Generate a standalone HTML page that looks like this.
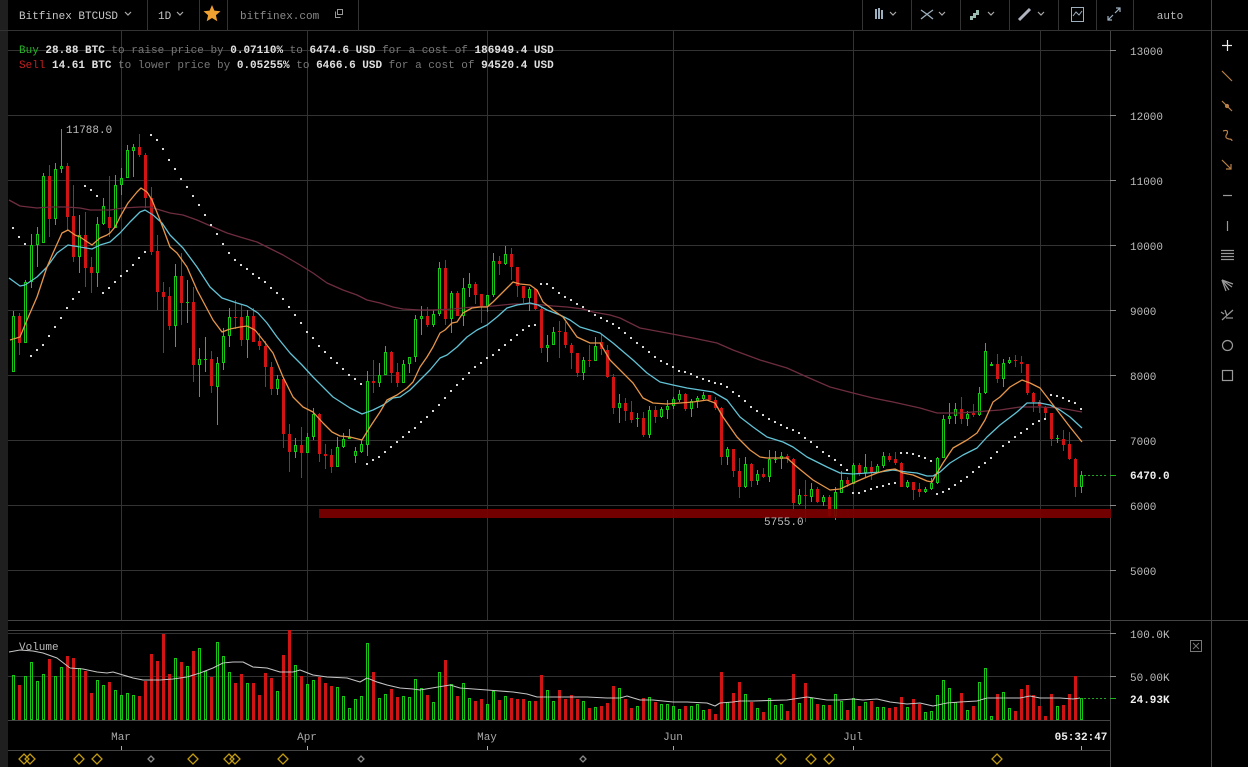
<!DOCTYPE html>
<html><head><meta charset="utf-8">
<style>
html,body{margin:0;padding:0;background:#000;width:1248px;height:767px;overflow:hidden}
svg{display:block}
text{font-family:"Liberation Mono","DejaVu Sans Mono",monospace;font-size:11px}
</style></head>
<body>
<svg id="s" width="1248" height="767" xmlns="http://www.w3.org/2000/svg">
<rect width="1248" height="767" fill="#000"/>
<rect x="0" y="0" width="8" height="767" fill="#1f1f1f"/>

<!-- header -->
<line x1="0" y1="30.5" x2="1248" y2="30.5" stroke="#333"/>
<g stroke="#333">
<line x1="147.5" y1="0" x2="147.5" y2="30"/><line x1="199.5" y1="0" x2="199.5" y2="30"/>
<line x1="227.5" y1="0" x2="227.5" y2="30"/><line x1="358.5" y1="0" x2="358.5" y2="30"/>
<line x1="862.5" y1="0" x2="862.5" y2="30"/><line x1="911.5" y1="0" x2="911.5" y2="30"/>
<line x1="960.5" y1="0" x2="960.5" y2="30"/><line x1="1009.5" y1="0" x2="1009.5" y2="30"/>
<line x1="1058.5" y1="0" x2="1058.5" y2="30"/><line x1="1096.5" y1="0" x2="1096.5" y2="30"/>
<line x1="1133.5" y1="0" x2="1133.5" y2="30"/>
</g>
<text x="19" y="19" fill="#c8c8c8">Bitfinex BTCUSD</text>
<text x="158" y="19" fill="#c8c8c8">1D</text>
<text x="240" y="19" fill="#8a8a8a">bitfinex.com</text>
<g fill="none" stroke="#aaa" stroke-width="1.2">
<polyline points="125,12 128,15 131,12"/><polyline points="177,12 180,15 183,12"/>
<polyline points="890,12 893,15 896,12"/><polyline points="939,12 942,15 945,12"/>
<polyline points="988,12 991,15 994,12"/><polyline points="1038,12 1041,15 1044,12"/>
</g>
<polygon points="212,5 214.4,10.6 220.5,11.2 215.9,15.2 217.3,21.2 212,18 206.7,21.2 208.1,15.2 203.5,11.2 209.6,10.6" fill="#f0a030"/>
<g fill="none" stroke="#999" stroke-width="1"><rect x="337.5" y="9.5" width="5" height="5"/><polyline points="335.5,11.5 335.5,17.5 340.5,17.5"/></g>
<g fill="#9db0c0"><rect x="875" y="9" width="2" height="10"/><rect x="878" y="8" width="2" height="11"/><rect x="881" y="10" width="2" height="9"/></g>
<g stroke="#9db0c0" stroke-width="1.3" fill="none"><path d="M921,10 Q927,14 933,19"/><path d="M921,19 Q927,14 933,10"/></g>
<path d="M970,20 V16 H973 V13 H976 V10 H979 V15 H976 V18 H973 V20 Z" fill="#9dbcb0"/>
<line x1="1019" y1="20" x2="1030" y2="9" stroke="#b0b4c0" stroke-width="3"/>
<g stroke="#9db0c0" fill="none" stroke-width="1"><rect x="1071.5" y="7.5" width="12" height="14"/><polyline points="1073,16 1076,12 1079,15 1082,11"/></g>
<g stroke="#9db0c0" fill="none" stroke-width="1.2"><line x1="1108" y1="20" x2="1113" y2="15"/><line x1="1115" y1="13" x2="1120" y2="8"/><polyline points="1108,16 1108,20 1112,20"/><polyline points="1116,8 1120,8 1120,12"/></g>
<text x="1170" y="19" fill="#bbb" text-anchor="middle">auto</text>

<!-- grid -->
<g stroke="#333" stroke-width="1">
<line x1="8" y1="50.5" x2="1110" y2="50.5"/><line x1="8" y1="115.5" x2="1110" y2="115.5"/>
<line x1="8" y1="180.5" x2="1110" y2="180.5"/><line x1="8" y1="245.5" x2="1110" y2="245.5"/>
<line x1="8" y1="310.5" x2="1110" y2="310.5"/><line x1="8" y1="375.5" x2="1110" y2="375.5"/>
<line x1="8" y1="440.5" x2="1110" y2="440.5"/><line x1="8" y1="505.5" x2="1110" y2="505.5"/>
<line x1="8" y1="570.5" x2="1110" y2="570.5"/>
<line x1="8" y1="633.5" x2="1110" y2="633.5"/><line x1="8" y1="676.5" x2="1110" y2="676.5"/>
<line x1="121.5" y1="31" x2="121.5" y2="620"/><line x1="307.5" y1="31" x2="307.5" y2="620"/>
<line x1="487.5" y1="31" x2="487.5" y2="620"/><line x1="673.5" y1="31" x2="673.5" y2="620"/>
<line x1="853.5" y1="31" x2="853.5" y2="620"/><line x1="1040.5" y1="31" x2="1040.5" y2="620"/>
<line x1="121.5" y1="630" x2="121.5" y2="720"/><line x1="307.5" y1="630" x2="307.5" y2="720"/>
<line x1="487.5" y1="630" x2="487.5" y2="720"/><line x1="673.5" y1="630" x2="673.5" y2="720"/>
<line x1="853.5" y1="630" x2="853.5" y2="720"/><line x1="1040.5" y1="630" x2="1040.5" y2="720"/>
</g>
<g stroke="#444" stroke-width="1">
<line x1="8" y1="620.5" x2="1248" y2="620.5"/>
<line x1="8" y1="630.5" x2="1110" y2="630.5"/>
<line x1="8" y1="720.5" x2="1110" y2="720.5"/>
<line x1="8" y1="750.5" x2="1110" y2="750.5"/>
<line x1="1110.5" y1="31" x2="1110.5" y2="767"/>
<line x1="1211.5" y1="0" x2="1211.5" y2="767"/>
</g>

<g id="cand"></g>
<g id="vol"></g>

<rect x="319" y="509" width="792" height="9" fill="#7c0000" opacity="0.93"/>

<g fill="none" stroke-width="1.3" stroke-linejoin="round">
<polyline stroke="#6e2d3f" points="9,200 20,206 37,208 50,207 67,207 80,208 90,210 110,210 123,208 140,207 150,207 160,210 170,213 183,215 197,220 213,227 227,233 240,237 257,242 267,247 283,255 300,265 313,273 327,283 343,290 357,295 367,300 380,303 393,307 403,309 420,310 433,310 453,309 473,307 493,306 513,304 533,304 553,306 567,307 583,309 593,312 610,315 620,318 640,328 667,333 693,338 717,343 733,350 760,360 787,368 807,377 830,387 853,393 873,398 893,402 920,408 937,413 960,413 1000,410 1020,407 1040,407 1060,408 1082,412"/>
<polyline stroke="#62c3d6" points="9,278 20,286 25,285 37,277 47,267 57,253 68,245 80,247 92,249 100,245 110,242 120,233 130,222 140,212 145,210 153,215 162,223 170,235 183,248 197,267 210,287 222,298 237,303 247,306 258,313 267,323 277,337 290,353 302,365 313,377 333,397 350,408 362,414 373,410 383,405 393,398 400,397 410,390 420,380 430,370 440,358 447,355 457,347 467,337 477,330 487,325 497,317 507,308 517,305 530,303 538,305 547,310 560,315 570,320 580,327 590,330 600,333 613,343 633,360 647,373 660,382 673,385 687,388 700,390 713,392 727,400 740,417 753,427 767,437 783,442 793,447 807,457 827,467 840,473 853,474 867,473 880,472 893,470 907,472 917,473 927,476 933,476 940,472 950,463 963,455 977,448 987,437 1000,425 1017,412 1027,403 1040,403 1050,405 1060,410 1070,417 1082,428"/>
<polyline stroke="#e6964a" points="10,340 20,337 27,320 37,297 47,267 53,253 62,233 68,230 75,235 80,237 92,245 100,238 107,235 110,233 115,227 120,217 128,203 137,192 141,188 147,192 152,200 160,220 170,247 177,253 187,267 197,290 213,320 222,332 230,329 240,327 247,326 255,330 263,340 273,353 283,377 293,397 303,407 313,412 323,423 332,432 340,436 350,437 362,440 370,427 380,412 387,400 397,395 407,388 413,382 420,367 427,357 433,347 440,333 445,330 452,323 457,322 463,313 472,308 480,307 487,307 493,302 500,295 508,287 513,282 520,284 530,285 537,290 543,302 553,310 563,317 570,327 577,337 590,343 600,343 610,360 633,383 643,398 653,403 667,404 680,403 693,402 707,400 715,403 723,417 737,437 750,450 760,457 767,458 787,458 797,467 813,480 830,490 840,489 853,483 867,477 877,473 887,470 895,469 903,473 913,475 927,481 932,482 937,473 943,463 953,448 967,440 977,433 985,420 993,402 1000,397 1010,387 1022,380 1030,383 1040,388 1047,397 1057,410 1070,427 1082,442"/>
<polyline stroke="#c4c4c4" stroke-width="1.1" points="9,652 20,650 33,651 43,653 57,658 70,668 83,669 97,672 107,673 113,672 123,675 133,678 143,680 160,680 173,679 187,677 200,673 213,668 223,663 233,662 243,662 253,667 267,668 280,672 293,672 300,670 313,675 327,677 347,678 360,682 367,678 377,682 387,685 400,688 413,689 420,690 450,685 460,688 487,690 513,692 527,694 537,697 587,697 607,698 620,698 627,696 640,700 653,700 673,702 687,702 707,703 715,706 720,703 733,702 740,701 753,701 787,700 807,697 827,700 840,700 853,699 863,700 877,699 890,702 907,704 920,703 933,706 947,703 960,702 977,701 987,698 1007,698 1020,698 1030,696 1040,698 1060,698 1073,699 1080,698"/>
</g>
<g id="sar" fill="#d8d8d8"></g>

<!-- current price / volume markers -->
<line x1="1084" y1="475.5" x2="1108" y2="475.5" stroke="#1fa51f" stroke-dasharray="2,2"/>
<line x1="1084" y1="698.5" x2="1108" y2="698.5" stroke="#1fa51f" stroke-dasharray="2,2"/>
<g stroke="#888"><line x1="1110" y1="50.5" x2="1116" y2="50.5"/><line x1="1110" y1="115.5" x2="1116" y2="115.5"/><line x1="1110" y1="180.5" x2="1116" y2="180.5"/><line x1="1110" y1="245.5" x2="1116" y2="245.5"/><line x1="1110" y1="310.5" x2="1116" y2="310.5"/><line x1="1110" y1="375.5" x2="1116" y2="375.5"/><line x1="1110" y1="440.5" x2="1116" y2="440.5"/><line x1="1110" y1="505.5" x2="1116" y2="505.5"/><line x1="1110" y1="570.5" x2="1116" y2="570.5"/><line x1="1110" y1="633.5" x2="1116" y2="633.5"/><line x1="1110" y1="676.5" x2="1116" y2="676.5"/></g>
<g stroke="#1fb51f"><line x1="1110" y1="475.5" x2="1116" y2="475.5"/><line x1="1110" y1="698.5" x2="1116" y2="698.5"/></g>

<g fill="#bcbcbc">
<text x="1130" y="55">13000</text><text x="1130" y="120">12000</text><text x="1130" y="185">11000</text>
<text x="1130" y="250">10000</text><text x="1130" y="315">9000</text><text x="1130" y="380">8000</text>
<text x="1130" y="445">7000</text><text x="1130" y="510">6000</text><text x="1130" y="575">5000</text>
<text x="1130" y="638">100.0K</text><text x="1130" y="681">50.00K</text>
</g>
<text x="1130" y="479" fill="#f0f0f0" font-weight="bold">6470.0</text>
<text x="1130" y="703" fill="#f0f0f0" font-weight="bold">24.93K</text>
<g fill="none" stroke="#777"><rect x="1190.5" y="640.5" width="11" height="11"/><line x1="1193" y1="643" x2="1199" y2="649"/><line x1="1199" y1="643" x2="1193" y2="649"/></g>

<text x="66" y="133" fill="#bcbcbc">11788.0</text>
<text x="764" y="525" fill="#bcbcbc">5755.0</text>

<text x="19" y="53" xml:space="preserve"><tspan fill="#27b327">Buy</tspan><tspan fill="#e0e0e0" font-weight="bold"> 28.88 BTC</tspan><tspan fill="#777"> to raise price by </tspan><tspan fill="#e0e0e0" font-weight="bold">0.07110%</tspan><tspan fill="#777"> to </tspan><tspan fill="#e0e0e0" font-weight="bold">6474.6 USD</tspan><tspan fill="#777"> for a cost of </tspan><tspan fill="#e0e0e0" font-weight="bold">186949.4 USD</tspan></text>
<text x="19" y="68" xml:space="preserve"><tspan fill="#c42020">Sell</tspan><tspan fill="#e0e0e0" font-weight="bold"> 14.61 BTC</tspan><tspan fill="#777"> to lower price by </tspan><tspan fill="#e0e0e0" font-weight="bold">0.05255%</tspan><tspan fill="#777"> to </tspan><tspan fill="#e0e0e0" font-weight="bold">6466.6 USD</tspan><tspan fill="#777"> for a cost of </tspan><tspan fill="#e0e0e0" font-weight="bold">94520.4 USD</tspan></text>

<text x="19" y="650" fill="#bbb">Volume</text>

<g fill="#a8a8a8" text-anchor="middle">
<text x="121" y="740">Mar</text><text x="307" y="740">Apr</text><text x="487" y="740">May</text>
<text x="673" y="740">Jun</text><text x="853" y="740">Jul</text>
</g>
<text x="1081" y="740" fill="#eee" font-weight="bold" text-anchor="middle">05:32:47</text>
<g stroke="#aaa"><line x1="121.5" y1="746" x2="121.5" y2="750"/><line x1="307.5" y1="746" x2="307.5" y2="750"/><line x1="487.5" y1="746" x2="487.5" y2="750"/><line x1="673.5" y1="746" x2="673.5" y2="750"/><line x1="853.5" y1="746" x2="853.5" y2="750"/><line x1="1081.5" y1="746" x2="1081.5" y2="750"/></g>

<g id="dia" fill="none" stroke="#c09a10" stroke-width="1.3"></g>

<!-- right toolbar -->
<g stroke-width="1.2" fill="none">
<g stroke="#eee"><line x1="1222" y1="45.5" x2="1232" y2="45.5"/><line x1="1227.5" y1="40" x2="1227.5" y2="51"/></g>
<g stroke="#b98048"><line x1="1222" y1="71" x2="1232" y2="81"/><line x1="1222" y1="101" x2="1232" y2="111"/><circle cx="1227" cy="106" r="1.5" fill="#b98048"/>
<path d="M1223,131 Q1229,129 1227,134 Q1224,138 1229,139 Q1232,139 1232,141"/>
<line x1="1222" y1="160" x2="1231" y2="169"/><polyline points="1226,169 1231,169 1231,164"/></g>
<g stroke="#999"><line x1="1223" y1="195.5" x2="1232" y2="195.5"/><line x1="1227.5" y1="221" x2="1227.5" y2="231"/>
<line x1="1221" y1="250.5" x2="1234" y2="250.5"/><line x1="1221" y1="253.5" x2="1234" y2="253.5"/><line x1="1221" y1="256.5" x2="1234" y2="256.5"/><line x1="1221" y1="259.5" x2="1234" y2="259.5"/>
<line x1="1222" y1="280" x2="1233" y2="284"/><line x1="1222" y1="280" x2="1232" y2="287"/><line x1="1222" y1="280" x2="1229" y2="290"/><line x1="1222" y1="280" x2="1226" y2="291"/>
<line x1="1222" y1="320" x2="1233" y2="310"/><line x1="1226" y1="318" x2="1233" y2="318"/><line x1="1227" y1="316" x2="1225" y2="310"/><line x1="1224" y1="314" x2="1221" y2="312"/>
<circle cx="1227.5" cy="345.5" r="5"/><rect x="1222.5" y="370.5" width="10" height="10"/></g>
</g>
</svg>
<script>
(function(){
var C=[[372,316,311,372],[316,343,313,355],[343,282,280,343],[282,245,234,288],[245,234,227,267],[243,176,173,243],[176,219,165,237],[219,169,163,225],[169,166,129,173],[166,217,163,230],
[216,257,185,262],[257,235,215,273],[235,268,212,287],[267,273,257,293],[273,224,217,287],[224,206,198,225],[217,228,176,237],[228,185,175,228],[185,178,168,195],[178,150,145,178],
[151,147,144,177],[147,155,134,157],[155,198,153,208],[198,252,187,255],[251,292,235,310],[292,297,282,353],[296,326,287,330],[326,276,264,347],[276,303,253,325],[303,302,280,323],
[302,365,287,382],[365,359,348,397],[360,359,337,372],[359,386,351,393],[387,363,357,425],[363,336,328,370],[336,317,308,347],[317,318,300,329],[317,340,305,346],[340,316,310,358],
[316,342,308,342],[341,346,333,350],[346,367,341,387],[367,389,362,395],[389,379,375,395],[379,434,377,448],[434,452,424,472],[452,445,438,458],[445,453,427,478],[453,437,433,453],
[437,414,408,440],[414,454,413,462],[454,456,444,469],[455,467,449,473],[467,447,437,467],[447,439,433,448],[439,437,429,439],[456,451,447,463],[452,444,440,453],[445,381,371,456],
[381,383,360,393],[383,375,363,387],[375,352,346,375],[352,373,351,383],[372,383,363,387],[383,364,360,383],[364,357,357,373],[357,319,315,362],[319,316,306,335],[316,325,307,327],
[325,314,310,327],[314,268,262,316],[268,319,260,325],[319,293,291,333],[293,316,291,316],[316,288,278,326],[288,284,273,297],[284,295,282,304],[294,307,294,323],[307,295,295,312],
[295,261,253,297],[261,264,256,275],[264,254,246,265],[254,267,248,280],[267,286,267,297],[286,298,286,303],[298,289,287,311],[289,309,289,310],[309,348,307,353],[348,345,335,362],
[345,332,327,345],[331,332,321,358],[332,345,322,348],[345,353,343,369],[353,373,353,377],[373,360,357,380],[360,361,345,367],[361,346,337,361],[342,349,334,355],[350,377,345,378],
[377,408,374,414],[408,403,394,423],[403,411,398,421],[412,420,401,423],[419,418,413,427],[418,435,412,437],[435,410,406,438],[410,417,406,423],[417,409,407,418],[410,406,400,419],
[406,399,397,409],[400,394,390,402],[394,409,393,411],[409,401,399,417],[401,398,396,408],[399,395,392,400],[395,400,395,400],[400,408,397,410],[408,457,407,465],[457,449,447,465],
[449,471,449,477],[471,487,458,498],[487,464,457,488],[464,481,463,487],[481,474,470,485],[474,477,468,478],[477,459,450,482],[460,459,451,463],[459,456,452,469],[456,459,454,463],
[459,503,458,511],[504,495,489,505],[495,496,480,522],[497,489,483,502],[489,502,487,503],[502,497,495,506],[497,516,495,517],[516,492,487,520],[493,480,471,493],[480,484,477,487],
[484,465,463,484],[465,473,463,476],[473,467,454,477],[467,473,461,480],[473,466,464,473],[466,456,452,468],[456,460,453,462],[459,463,452,465],[463,487,462,487],[487,482,480,488],
[482,490,482,500],[489,492,483,497],[492,489,487,493],[489,483,478,490],[483,458,457,484],[458,419,415,458],[419,416,403,424],[416,409,403,424],[409,419,397,424],[419,414,411,426],
[413,415,404,417],[415,393,387,416],[393,351,343,394],[366,364,362,366],[364,379,354,383],[379,363,359,387],[363,360,357,364],[360,361,355,367],[362,364,356,373],[364,393,364,395],
[393,402,392,412],[402,406,400,413],[407,413,406,419],[413,439,413,446],[439,438,435,443],[439,445,430,451],[444,459,432,460],[459,487,458,497],[487,475,471,493]];
var V=[675,685,676,662,681,674,659,676,667,656,658,668,671,693,680,685,682,690,695,693,695,696,681,654,661,634,674,658,662,666,651,648,671,677,642,656,672,683,674,683,683,695,673,678,691,655,630,665,676,684,680,677,683,686,687,696,708,699,696,643,672,698,694,689,697,696,697,679,688,695,702,672,660,684,696,683,698,701,699,704,691,700,696,698,699,699,701,701,675,690,701,690,699,695,699,701,708,707,706,703,686,688,699,708,706,698,697,702,704,704,706,709,706,706,704,710,709,714,672,702,693,682,694,702,708,712,698,705,704,711,674,703,683,698,704,705,705,694,701,710,698,706,702,701,707,707,708,707,697,707,699,704,712,711,695,680,688,702,693,710,706,682,668,716,694,692,708,711,689,685,695,706,716,694,706,705,694,676,698];
var S=[228,237,244,356,350,345,336,327,318,308,299,292,186,190,196,293,288,282,276,271,265,258,252,135,140,149,160,169,179,187,196,205,215,225,234,244,253,260,265,269,274,278,282,288,293,299,307,315,323,332,338,346,352,358,363,369,375,379,384,464,460,457,452,447,442,437,432,428,422,417,411,405,398,391,385,379,373,367,363,358,355,350,345,340,335,330,326,325,284,284,288,293,297,300,304,307,311,315,318,321,324,328,333,338,343,347,352,357,361,364,367,371,372,374,377,379,381,383,384,387,392,396,401,407,411,415,419,422,425,428,430,433,438,442,447,452,456,460,465,470,493,493,491,489,487,486,484,483,453,453,454,456,458,461,494,492,489,485,481,477,472,467,463,458,452,446,442,437,433,429,424,421,419,395,396,398,401,403,409];
var G='#14c814',R='#d01414',a='',b='',s='';
for(var i=0;i<C.length;i++){
 var d=C[i],o=d[0],c=d[1],h=d[2],l=d[3],x=13+6*i,up=c<o,t=Math.min(o,c),bt=Math.max(o,c);
 if(up){
  if(bt-t<3){a+='<rect x="'+x+'" y="'+h+'" width="1" height="'+(l-h)+'" fill="'+G+'"/><rect x="'+(x-1)+'" y="'+t+'" width="3" height="'+Math.max(1,bt-t)+'" fill="'+G+'"/>';}
  else{
   if(t>h)a+='<rect x="'+x+'" y="'+h+'" width="1" height="'+(t-h)+'" fill="'+G+'"/>';
   if(l>bt)a+='<rect x="'+x+'" y="'+bt+'" width="1" height="'+(l-bt)+'" fill="'+G+'"/>';
   a+='<rect x="'+(x-0.5)+'" y="'+(t+0.5)+'" width="2" height="'+(bt-t-1)+'" fill="none" stroke="'+G+'" stroke-width="1"/>';
  }
 }else{
  a+='<rect x="'+x+'" y="'+h+'" width="1" height="'+(l-h)+'" fill="'+R+'"/><rect x="'+(x-1)+'" y="'+t+'" width="3" height="'+Math.max(1,bt-t)+'" fill="'+R+'"/>';
 }
 var v=V[i];
 if(up)b+='<rect x="'+(x-0.5)+'" y="'+(v+0.5)+'" width="2" height="'+(720-v-1)+'" fill="none" stroke="'+G+'" stroke-width="1"/>';
 else b+='<rect x="'+(x-1)+'" y="'+v+'" width="3" height="'+(720-v)+'" fill="'+R+'"/>';
 s+='<rect x="'+(x-1)+'" y="'+(S[i]-1)+'" width="2" height="2"/>';
}
document.getElementById('cand').innerHTML=a;
document.getElementById('vol').innerHTML=b;
document.getElementById('sar').innerHTML=s;
var D=[24,30,79,97,193,229,235,283,781,811,829,997],dd='';
D.forEach(function(x){dd+='<polygon points="'+x+',754 '+(x+5)+',759 '+x+',764 '+(x-5)+',759"/>';});
[151,361,583].forEach(function(x){dd+='<polygon points="'+x+',756 '+(x+3)+',759 '+x+',762 '+(x-3)+',759" stroke="#888"/>';});
document.getElementById('dia').innerHTML=dd;
})();
</script>
</body></html>
